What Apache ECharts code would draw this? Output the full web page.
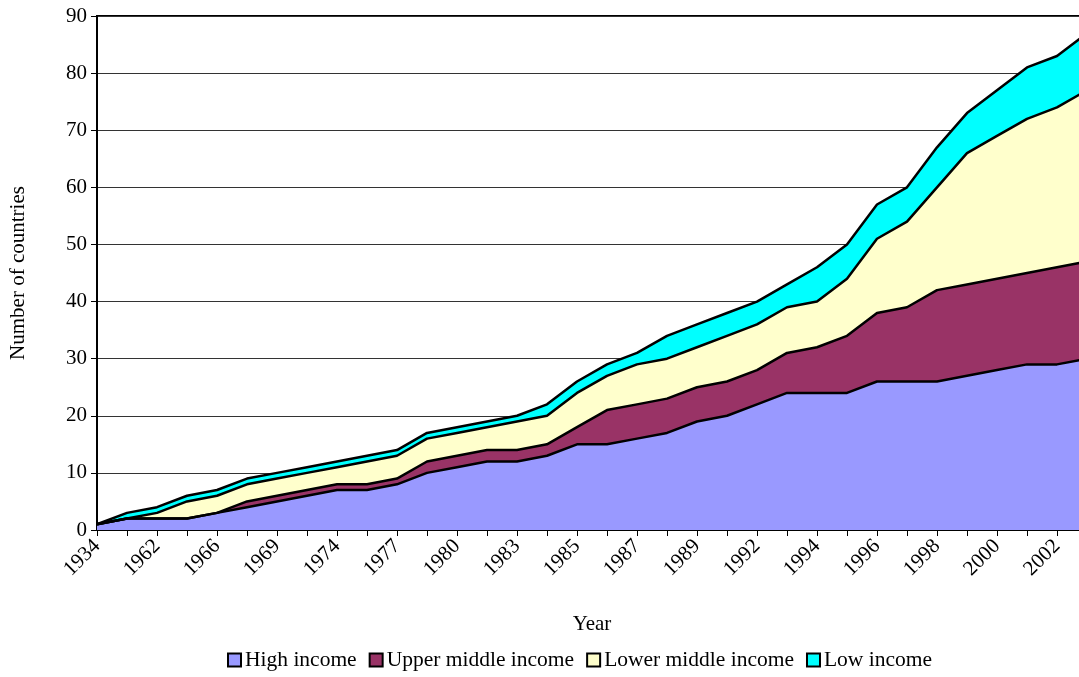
<!DOCTYPE html>
<html>
<head>
<meta charset="utf-8">
<script src="https://cdn.jsdelivr.net/npm/echarts@6/dist/echarts.min.js"></script>
<style>
  html, body { margin: 0; padding: 0; background: #fff; overflow: hidden; }
  /* the original plot runs a few pixels past the right edge of the picture */
  #chart { width: 1089px; height: 677px; }
</style>
</head>
<body>
<div id="chart"></div>
<script>
// categories (only every other one is labelled on the axis)
var years = ['1934','1961','1962','1964','1966','1967','1969','1971','1974','1975',
             '1977','1979','1980','1982','1983','1984','1985','1986','1987','1988',
             '1989','1991','1992','1993','1994','1995','1996','1997','1998','1999',
             '2000','2001','2002','2003'];

var highIncome  = [1,2,2,2,3,4,5,6,7,7,8,10,11,12,12,13,15,15,16,17,19,20,22,24,24,24,26,26,26,27,28,29,29,30];
var upperMiddle = [0,0,0,0,0,1,1,1,1,1,1,2,2,2,2,2,3,6,6,6,6,6,6,7,8,10,12,13,16,16,16,16,17,17];
var lowerMiddle = [0,0,1,3,3,3,3,3,3,4,4,4,4,4,5,5,6,6,7,7,7,8,8,8,8,10,13,15,18,23,25,27,28,30];
var lowIncome   = [0,1,1,1,1,1,1,1,1,1,1,1,1,1,1,2,2,2,2,4,4,4,4,4,6,6,6,6,7,7,8,9,9,10];

var yTicks = [0,10,20,30,40,50,60,70,80,90];

var font = '"Liberation Serif", "Times New Roman", serif';
var chart = echarts.init(document.getElementById('chart'));

function mk(name, data, fill){
  return {
    name: name,
    type: 'line',
    stack: 'total',
    data: data,
    symbol: 'none',
    lineStyle: { color: '#000', width: 2.5 },
    areaStyle: { color: fill, opacity: 1 },
    itemStyle: { color: fill, borderColor: '#000', borderWidth: 2 },
    emphasis: { disabled: true }
  };
}

chart.setOption({
  animation: false,
  textStyle: { fontFamily: font, color: '#000' },
  grid: {
    left: 97, right: 2, top: 16, bottom: 147,
    show: true, borderColor: '#000', borderWidth: 2, backgroundColor: 'transparent'
  },
  legend: {
    top: 644,
    left: 222,
    icon: 'rect',
    itemWidth: 13,
    itemHeight: 13,
    itemGap: 12,
    itemStyle: { borderColor: '#000', borderWidth: 2 },
    textStyle: { fontFamily: font, fontSize: 21.5, color: '#000', padding: [0,0,0,-1] },
    data: ['High income','Upper middle income','Lower middle income','Low income']
  },
  xAxis: {
    type: 'category',
    data: years,
    boundaryGap: false,
    name: 'Year',
    nameLocation: 'middle',
    nameGap: 84,
    nameTextStyle: { fontFamily: font, fontSize: 21, color: '#000' },
    axisLine: { lineStyle: { color: '#000', width: 2 } },
    axisTick: { show: true, interval: 0, length: 6, lineStyle: { color: '#000', width: 1 } },
    axisLabel: { interval: 1, rotate: 45, margin: 13, fontSize: 21, color: '#000', fontFamily: font },
    splitLine: { show: false }
  },
  yAxis: {
    type: 'value',
    min: yTicks[0],
    max: yTicks[yTicks.length - 1],
    interval: 10,
    name: 'Number of countries',
    nameLocation: 'middle',
    nameGap: 68,
    nameTextStyle: { fontFamily: font, fontSize: 21, color: '#000' },
    axisLine: { show: true, lineStyle: { color: '#000', width: 2 } },
    axisTick: { show: true, length: 6, lineStyle: { color: '#000', width: 1 } },
    axisLabel: { fontSize: 21, color: '#000', margin: 10, fontFamily: font },
    splitLine: { show: true, lineStyle: { color: '#333', width: 1 } }
  },
  series: [
    mk('High income', highIncome, '#9999FF'),
    mk('Upper middle income', upperMiddle, '#993366'),
    mk('Lower middle income', lowerMiddle, '#FFFFCC'),
    mk('Low income', lowIncome, '#00FFFF')
  ]
});
</script>
</body>
</html>
